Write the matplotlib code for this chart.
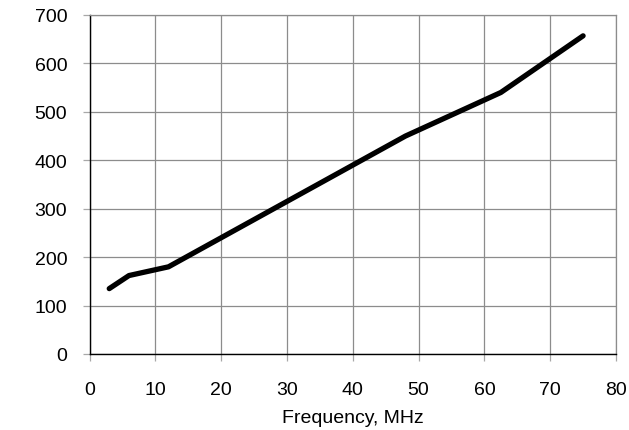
import matplotlib
matplotlib.use('Agg')
import matplotlib.pyplot as plt

# values
freq = [3, 6, 12, 48, 62.5, 75]
value = [135, 162, 180, 450, 540, 657]
xticks = [0, 10, 20, 30, 40, 50, 60, 70, 80]
yticks = [0, 100, 200, 300, 400, 500, 600, 700]

plt.rcParams['font.family'] = ['Liberation Sans', 'DejaVu Sans']

fig = plt.figure(figsize=(6.29, 4.31), dpi=100)
ax = fig.add_axes([89.5 / 629, 76 / 431, (616 - 89.5) / 629, (355 - 16) / 431])

ax.plot(freq, value, color='black', linewidth=3.8, solid_capstyle='round',
        solid_joinstyle='round', zorder=3)

ax.set_xlim(0, 80)
ax.set_ylim(0, 700)
ax.set_xticks(xticks)
ax.set_yticks(yticks)
ax.grid(True, color='#8c8c8c', linewidth=0.9)
ax.tick_params(axis='both', direction='out', length=5, width=0.9,
               color='#a8a8a8', labelsize=14)
ax.tick_params(axis='x', pad=14.7)
ax.tick_params(axis='y', pad=11)

for side in ['top', 'right']:
    ax.spines[side].set_color('#8c8c8c')
    ax.spines[side].set_linewidth(0.9)
for side in ['left', 'bottom']:
    ax.spines[side].set_color('black')
    ax.spines[side].set_linewidth(1.0)

ax.set_xlabel('Frequency, MHz', fontsize=14, labelpad=7.5)

fig.savefig('out.png', dpi=100)
